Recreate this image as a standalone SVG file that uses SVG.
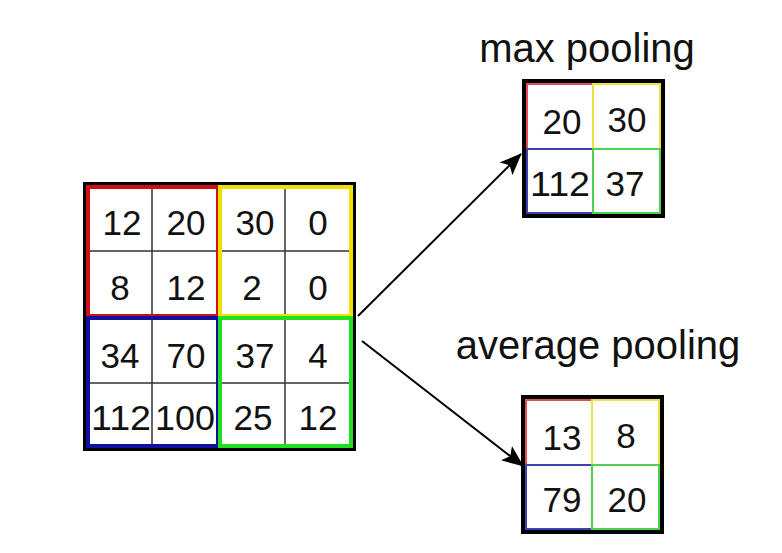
<svg xmlns="http://www.w3.org/2000/svg" width="782" height="553" viewBox="0 0 782 553">
<style>
text{font-family:"Liberation Sans",Arial,sans-serif;fill:#111;text-anchor:middle}
.n{font-size:35px}.t{font-size:40px}
.g{stroke:#333;stroke-width:1.5;fill:none}
.o{stroke:#000;stroke-width:4;fill:none}
</style>
<defs><marker id="a" markerWidth="22" markerHeight="18" refX="21" refY="9" orient="auto" markerUnits="userSpaceOnUse" viewBox="0 0 22 18"><path d="M0,0 L22,9 L0,18 L5,9 z" fill="#000"/></marker></defs>
<rect width="782" height="553" fill="#fff"/>
<g id="input">
<rect x="85" y="184" width="269" height="265" class="o"/>
<path class="g" d="M152,186V447M285,186V447M87,251H352M87,383H352"/>
<rect x="88" y="187" width="130" height="129" fill="none" stroke="#d01010" stroke-width="4"/>
<rect x="220" y="187" width="131" height="129" fill="none" stroke="#f0e000" stroke-width="4"/>
<rect x="88" y="318" width="130" height="128" fill="none" stroke="#1010a0" stroke-width="4"/>
<rect x="220" y="318" width="131" height="128" fill="none" stroke="#20e020" stroke-width="4"/>
<g class="n">
<text x="122" y="235">12</text><text x="186" y="235">20</text><text x="255" y="235">30</text><text x="318" y="235">0</text>
<text x="120" y="300">8</text><text x="186" y="300">12</text><text x="252" y="300">2</text><text x="318" y="300">0</text>
<text x="120" y="368">34</text><text x="186" y="368">70</text><text x="255" y="368">37</text><text x="318" y="368">4</text>
<text x="121" y="430" textLength="60" lengthAdjust="spacingAndGlyphs">112</text><text x="185" y="430" textLength="60" lengthAdjust="spacingAndGlyphs">100</text><text x="253" y="430">25</text><text x="318" y="430">12</text>
</g>
</g>
<g id="max">
<text class="t" x="587" y="62">max pooling</text>
<rect x="524" y="81" width="139" height="135" class="o"/>
<rect x="527" y="84" width="66" height="65" fill="none" stroke="#e05050" stroke-width="2"/>
<rect x="593" y="84" width="67" height="65" fill="none" stroke="#f0e040" stroke-width="2"/>
<rect x="527" y="149" width="66" height="64" fill="none" stroke="#4040b0" stroke-width="2"/>
<rect x="593" y="149" width="67" height="64" fill="none" stroke="#50d050" stroke-width="2"/>
<g class="n"><text x="562" y="134">20</text><text x="627" y="132">30</text><text x="560" y="196" textLength="60" lengthAdjust="spacingAndGlyphs">112</text><text x="625" y="196">37</text></g>
</g>
<g id="avg">
<text class="t" x="598" y="359">average pooling</text>
<rect x="523" y="397" width="139" height="135" class="o"/>
<rect x="526" y="400" width="66" height="65" fill="none" stroke="#e05050" stroke-width="2"/>
<rect x="592" y="400" width="67" height="65" fill="none" stroke="#f0e040" stroke-width="2"/>
<rect x="526" y="465" width="66" height="64" fill="none" stroke="#4040b0" stroke-width="2"/>
<rect x="592" y="465" width="67" height="64" fill="none" stroke="#50d050" stroke-width="2"/>
<g class="n"><text x="562" y="450">13</text><text x="626" y="448">8</text><text x="562" y="512">79</text><text x="627" y="512">20</text></g>
</g>
<g id="connectors" stroke="#000" stroke-width="2" fill="none">
<path d="M358,316 L521,154" marker-end="url(#a)"/>
<path d="M362,341 L523,466" marker-end="url(#a)"/>
</g>
</svg>
